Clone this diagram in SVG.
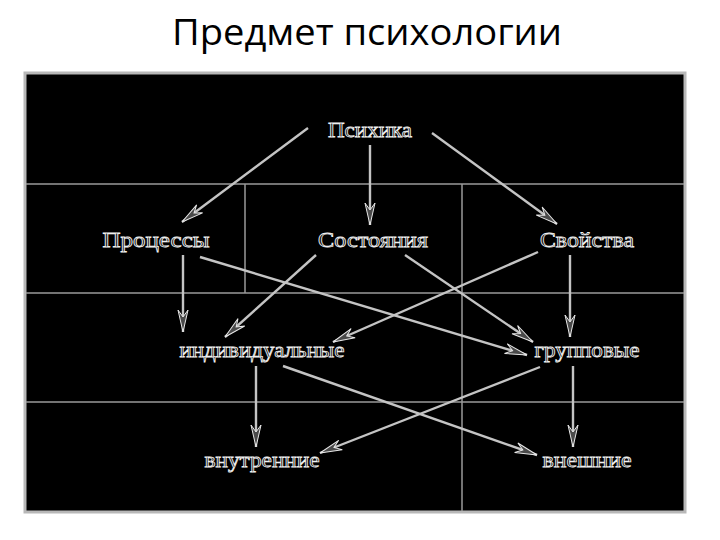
<svg xmlns="http://www.w3.org/2000/svg" width="720" height="540" viewBox="0 0 720 540">
<style>
.title{font-family:"Open Sans","Liberation Sans",sans-serif;font-size:36px;fill:#000}
.lbl{font-family:"Liberation Serif","DejaVu Serif",serif;font-size:21px;fill:#0a0a0a;stroke:#f0f0f0;stroke-width:0.8px;text-anchor:middle}
.grid{stroke:#9a9a9a;stroke-width:1.5;fill:none}
.edge{stroke:#c4c4c4;stroke-width:2.4;fill:none;marker-end:url(#ah)}
</style>
<defs>
<marker id="ah" markerUnits="userSpaceOnUse" markerWidth="26" markerHeight="14" viewBox="-23 -7 26 14" refX="0" refY="0" orient="auto">
<path d="M0,0 L-22,-5 L-15,0 L-22,5 Z" fill="#4a4a4a" stroke="#e8e8e8" stroke-width="1"/>
</marker>
</defs>
<rect width="720" height="540" fill="#fff"/>
<text class="title" x="367" y="45" text-anchor="middle" textLength="390" lengthAdjust="spacingAndGlyphs">Предмет психологии</text>
<g id="frame">
<rect x="25" y="73" width="660" height="439" fill="#000" stroke="#b8b8b8" stroke-width="3"/>
<line class="grid" x1="26" y1="184" x2="684" y2="184"/>
<line class="grid" x1="26" y1="293" x2="684" y2="293"/>
<line class="grid" x1="26" y1="402" x2="684" y2="402"/>
<line class="grid" x1="245" y1="184" x2="245" y2="293"/>
<line class="grid" x1="462" y1="184" x2="462" y2="511"/>
</g>
<g id="connectors">
<line class="edge" x1="308" y1="128" x2="182" y2="222"/>
<line class="edge" x1="370" y1="145" x2="370" y2="225"/>
<line class="edge" x1="432" y1="133" x2="557" y2="224"/>
<line class="edge" x1="183" y1="255" x2="183" y2="332"/>
<line class="edge" x1="200" y1="257" x2="527" y2="355"/>
<line class="edge" x1="316" y1="255" x2="225" y2="337"/>
<line class="edge" x1="405" y1="255" x2="533" y2="342"/>
<line class="edge" x1="538" y1="252" x2="333" y2="342"/>
<line class="edge" x1="570" y1="255" x2="570" y2="337"/>
<line class="edge" x1="256" y1="366" x2="256" y2="447"/>
<line class="edge" x1="283" y1="366" x2="537" y2="455"/>
<line class="edge" x1="540" y1="367" x2="320" y2="453"/>
<line class="edge" x1="573" y1="366" x2="573" y2="447"/>
</g>
<g id="n-psychika"><text class="lbl" x="370" y="137" textLength="84" lengthAdjust="spacingAndGlyphs">Психика</text></g>
<g id="n-processy"><text class="lbl" x="156" y="247" textLength="107" lengthAdjust="spacingAndGlyphs">Процессы</text></g>
<g id="n-sostoyaniya"><text class="lbl" x="373" y="247" textLength="110" lengthAdjust="spacingAndGlyphs">Состояния</text></g>
<g id="n-svoystva"><text class="lbl" x="587" y="247" textLength="94" lengthAdjust="spacingAndGlyphs">Свойства</text></g>
<g id="n-individ"><text class="lbl" x="262" y="357" textLength="165" lengthAdjust="spacingAndGlyphs">индивидуальные</text></g>
<g id="n-gruppovye"><text class="lbl" x="587" y="357" textLength="105" lengthAdjust="spacingAndGlyphs">групповые</text></g>
<g id="n-vnutrennie"><text class="lbl" x="262" y="467" textLength="115" lengthAdjust="spacingAndGlyphs">внутренние</text></g>
<g id="n-vneshnie"><text class="lbl" x="587" y="467" textLength="89" lengthAdjust="spacingAndGlyphs">внешние</text></g>
</svg>
